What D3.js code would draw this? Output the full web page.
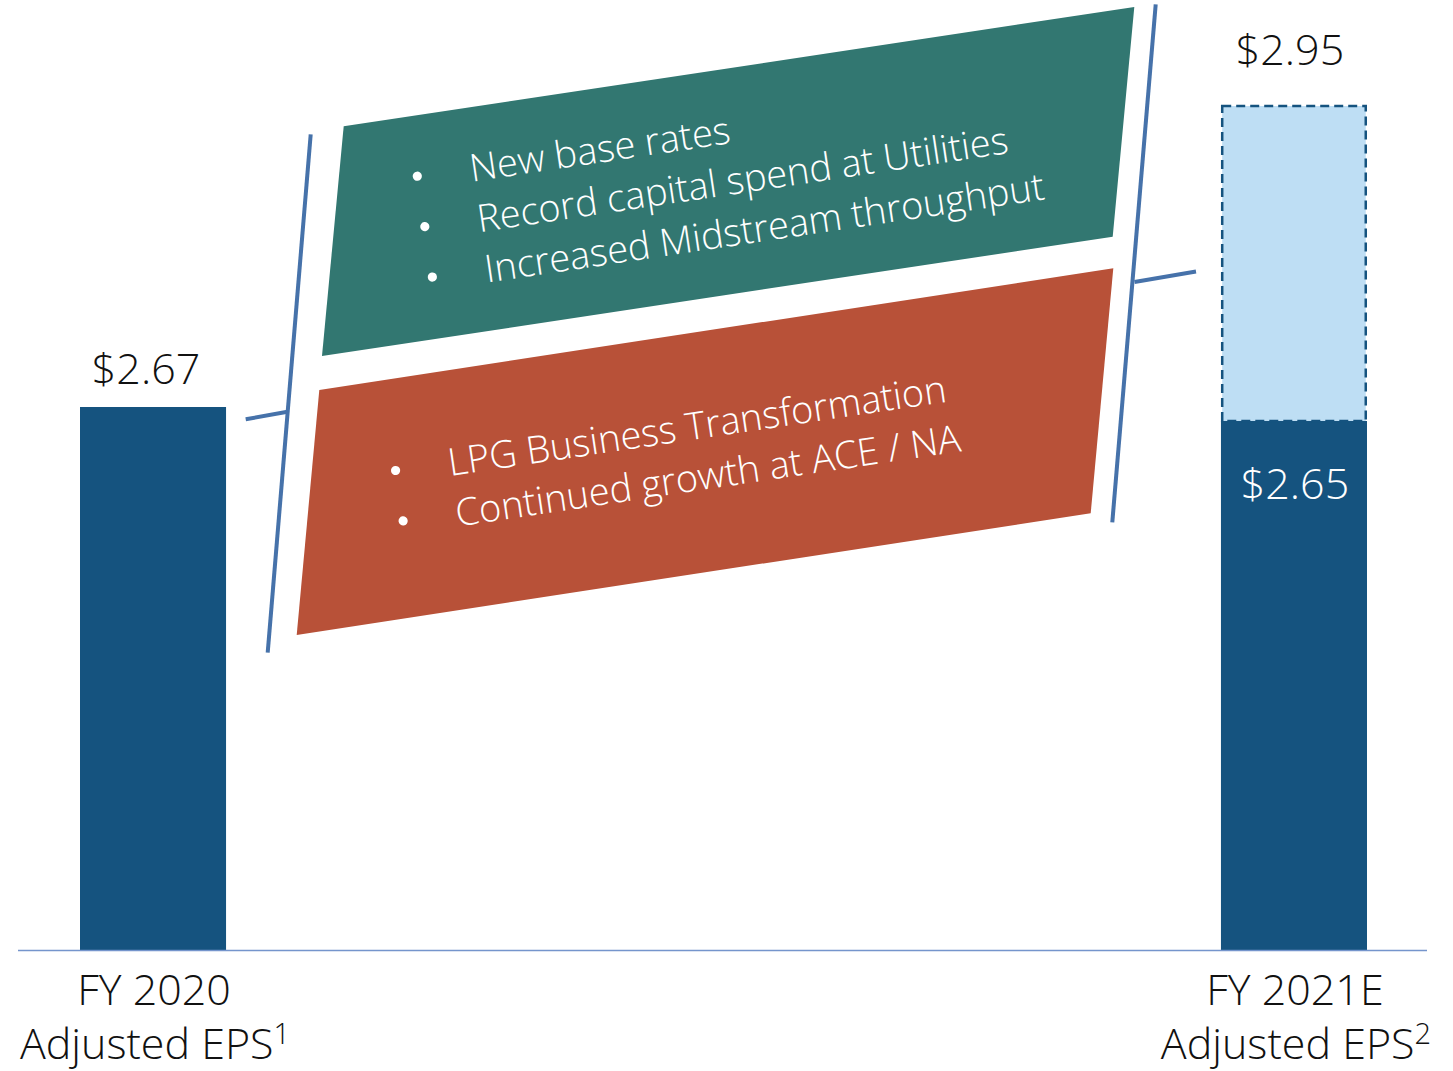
<!DOCTYPE html>
<html>
<head>
<meta charset="utf-8">
<script src="https://cdn.jsdelivr.net/npm/d3@7"></script>
<style>
  html, body { margin: 0; padding: 0; background: #ffffff; }
  svg { display: block; }
  text { font-family: "Open Sans", "DejaVu Sans", sans-serif; }
</style>
</head>
<body>
<svg id="chart" width="1453" height="1071"></svg>
<script>
// ---- Data ----
const categories = ["FY 2020", "FY 2021E"];
const subtitles = ["Adjusted EPS", "Adjusted EPS"];
const footnotes = ["1", "2"];
const baseEps = [2.67, 2.65];          // solid bars
const guidanceEps = [null, 2.95];      // dashed upper segment of the 2021 bar
const growthDrivers = [
  "New base rates",
  "Record capital spend at Utilities",
  "Increased Midstream throughput"
];
const offsetDrivers = [
  "LPG Business Transformation",
  "Continued growth at ACE / NA"
];

// ---- Styling ----
const C = {
  bar: "#15537f",
  guidance: "#bedef4",
  teal: "#327771",
  rust: "#b85138",
  bracket: "#4672aa",
  axis: "#7595cc",
  text: "#111111"
};

const svg = d3.select("#chart");
const baseY = 950;

// Category axis
const x = d3.scaleBand()
  .domain(categories)
  .range([80, 1367])
  .paddingInner(0.872)
  .paddingOuter(0);

// Value axis is drawn "not to scale": piecewise segments between the values
const yStops = [0, ...[...baseEps, ...guidanceEps].filter(v => v != null).sort(d3.ascending)];
const y = d3.scaleLinear()
  .domain(yStops)
  .range([baseY, 421, 407, 106]);

const fmt = d3.format("$.2f");

// ---- Bridge annotations (decorative panels between the bars) ----
const tealPanel = [[343.7, 126.3], [1134.3, 7], [1112.7, 236.7], [322, 356]];
const rustPanel = [[319.3, 390], [1113.3, 268.3], [1090.7, 513.3], [296.7, 635]];
const line = d3.line();

svg.append("path").attr("d", line(tealPanel) + "Z").attr("fill", C.teal);
svg.append("path").attr("d", line(rustPanel) + "Z").attr("fill", C.rust);

const brackets = [
  [[310.7, 134.3], [267.7, 652.7]],
  [[245.7, 419.3], [287.5, 411.8]],
  [[1155.7, 4.3], [1112.3, 522.3]],
  [[1134.5, 282], [1196, 271.5]]
];
svg.append("g").selectAll("path").data(brackets).join("path")
  .attr("d", d => line(d))
  .attr("stroke", C.bracket)
  .attr("stroke-width", 4)
  .attr("fill", "none");

// Bulleted, slanted text blocks
function bulletBlock(items, ox, oy, angle) {
  const g = svg.append("g")
    .attr("transform", `translate(${ox},${oy}) rotate(${angle})`);
  const lineH = 51;
  g.selectAll("circle").data(items).join("circle")
    .attr("cx", -53)
    .attr("cy", (d, i) => i * lineH - 13.5)
    .attr("r", 4.6)
    .attr("fill", "#ffffff");
  g.selectAll("text").data(items).join("text")
    .attr("x", 0)
    .attr("y", (d, i) => i * lineH)
    .attr("fill", "#ffffff")
    .attr("font-size", 38)
    .attr("font-weight", 300)
    .text(d => d);
}
bulletBlock(growthDrivers, 471.7, 181.7, -8.5);
bulletBlock(offsetDrivers, 450, 476, -8.5);

// ---- Bars ----
const bars = svg.append("g");
bars.selectAll("rect.base").data(categories).join("rect")
  .attr("class", "base")
  .attr("x", d => x(d))
  .attr("width", x.bandwidth())
  .attr("y", (d, i) => y(baseEps[i]))
  .attr("height", (d, i) => y(0) - y(baseEps[i]))
  .attr("fill", C.bar);

const guideData = categories
  .map((c, i) => ({ c, lo: baseEps[i], hi: guidanceEps[i] }))
  .filter(d => d.hi != null);

bars.selectAll("rect.guide").data(guideData).join("rect")
  .attr("class", "guide")
  .attr("x", d => x(d.c) + 1.25)
  .attr("width", x.bandwidth() - 2.5)
  .attr("y", d => y(d.hi))
  .attr("height", d => y(d.lo) - y(d.hi))
  .attr("fill", C.guidance)
  .attr("stroke", C.bar)
  .attr("stroke-width", 2.5)
  .attr("stroke-dasharray", "9 5");

// Baseline
svg.append("line")
  .attr("x1", 18).attr("x2", 1427)
  .attr("y1", baseY + 0.5).attr("y2", baseY + 0.5)
  .attr("stroke", C.axis)
  .attr("stroke-width", 1.6);

// ---- Value labels ----
const labels = svg.append("g").attr("font-size", 43).attr("font-weight", 300).attr("text-anchor", "middle");
// FY2020 label above its bar
labels.append("text")
  .attr("x", x(categories[0]) + x.bandwidth() / 2 - 7)
  .attr("y", y(baseEps[0]) - 23)
  .attr("fill", C.text)
  .text(fmt(baseEps[0]));
// FY2021E guidance above, base inside
labels.append("text")
  .attr("x", x(categories[1]) + x.bandwidth() / 2 - 4)
  .attr("y", y(guidanceEps[1]) - 41)
  .attr("fill", C.text)
  .text(fmt(guidanceEps[1]));
labels.append("text")
  .attr("x", x(categories[1]) + x.bandwidth() / 2 + 1)
  .attr("y", y(baseEps[1]) + 78)
  .attr("fill", "#ffffff")
  .text(fmt(baseEps[1]));

// ---- Category labels ----
const cat = svg.append("g").attr("font-size", 43).attr("font-weight", 300)
  .attr("text-anchor", "middle").attr("fill", C.text);
categories.forEach((c, i) => {
  const cx = x(c) + x.bandwidth() / 2 + 1;
  cat.append("text").attr("x", cx).attr("y", 1005).text(c);
  const t = cat.append("text").attr("x", cx + 1).attr("y", 1059);
  t.append("tspan").text(subtitles[i]);
  t.append("tspan").attr("font-size", 29).attr("dy", -15).text(footnotes[i]);
});
</script>
</body>
</html>
